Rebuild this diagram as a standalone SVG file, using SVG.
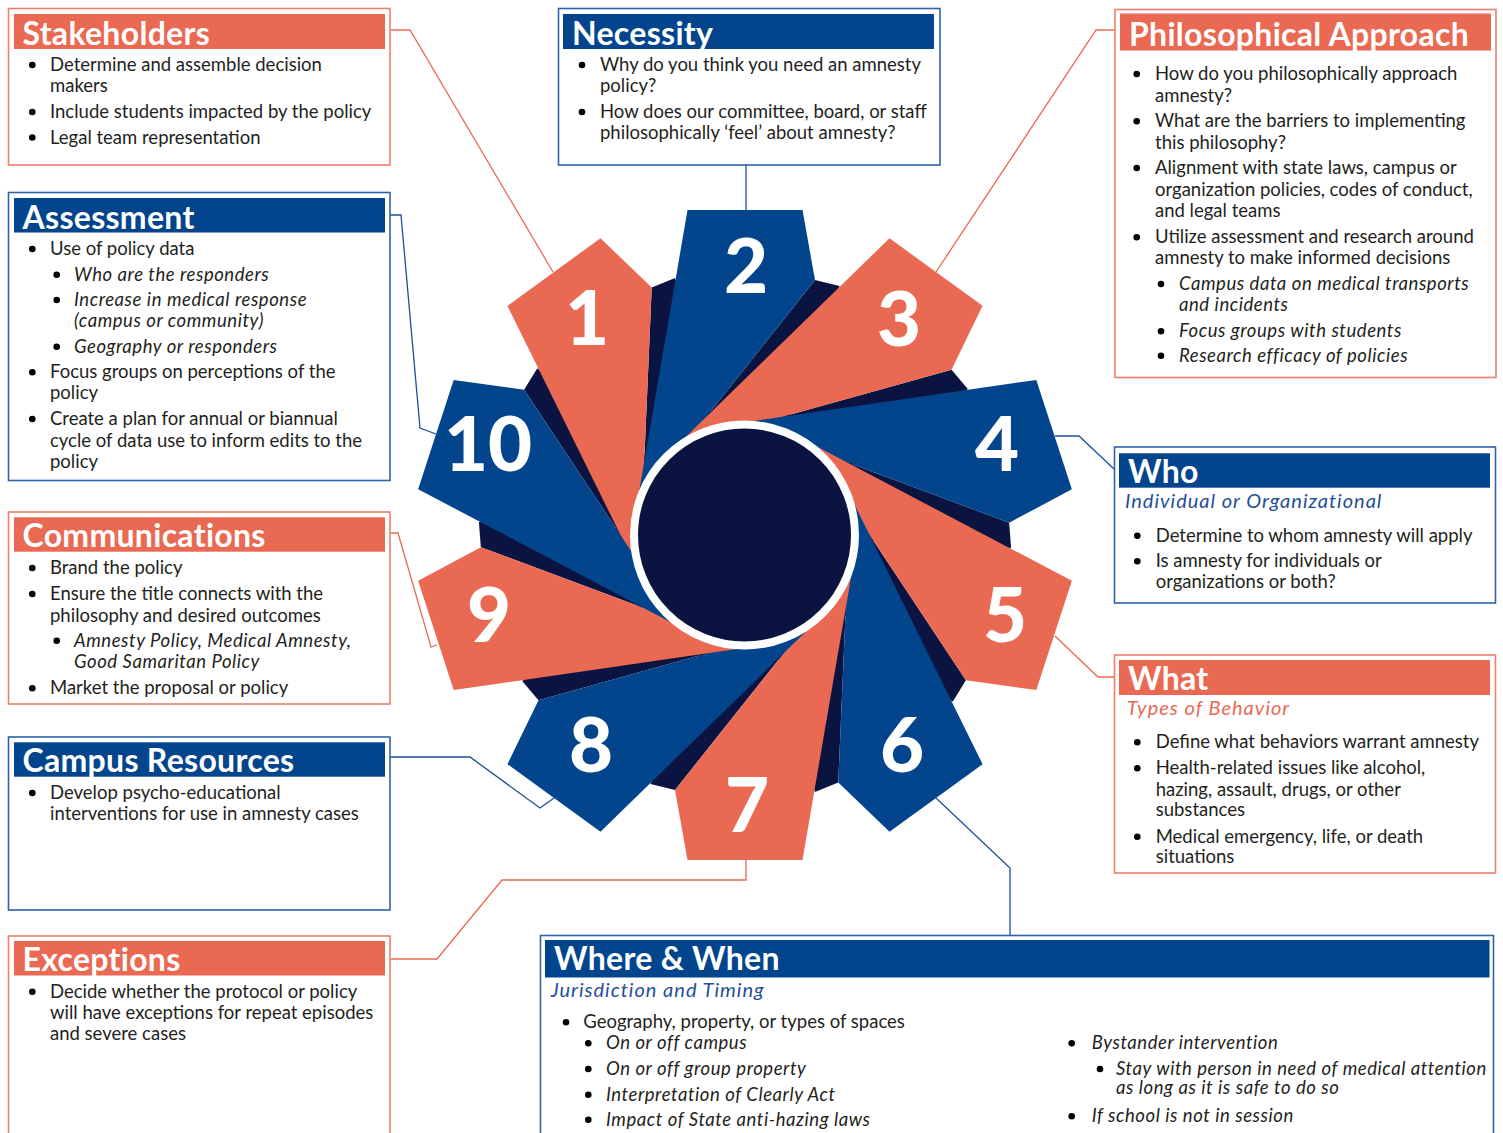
<svg xmlns="http://www.w3.org/2000/svg" xmlns:xlink="http://www.w3.org/1999/xlink" width="1503" height="1133" viewBox="0 0 1503 1133">
<defs>
<style>
.bs{fill:#fff;stroke:#EE7F6B;stroke-width:1.6}
.bb{fill:#fff;stroke:#2F62A8;stroke-width:1.6}
.hs{fill:#EA6953}
.hb{fill:#03458D}
.hdr{font-family:Lato,"Open Sans","Liberation Sans",sans-serif;font-weight:700;font-size:32px;letter-spacing:0.3px;fill:#fff}
.t{font-family:Lato,"Open Sans","Liberation Sans",sans-serif;font-size:18.5px;fill:#231F20}
.i{font-style:italic;letter-spacing:0.55px}
.sub{font-family:Lato,"Open Sans","Liberation Sans",sans-serif;font-style:italic;font-size:20px;letter-spacing:1px}
.dot{fill:#000}
.num{font-family:Lato,"Open Sans","Liberation Sans",sans-serif;font-weight:900;font-size:76px;fill:#fff;text-anchor:middle}
.cs{fill:none;stroke:#EA6953;stroke-width:1.3}
.cb{fill:none;stroke:#1F4F9A;stroke-width:1.3}
</style>
<polygon id="blade" points="637,504 687.5,210 802.5,210 815,280"/>
<polygon id="shade" points="815,280 839.5,285.9 745,535 637,504"/>
</defs>
<rect width="1503" height="1133" fill="#fff"/>

<g id="connectors">
<polyline class="cs" points="390,30 410,30 553,272"/>
<line class="cb" x1="746" y1="165" x2="746" y2="210"/>
<polyline class="cs" points="1115,30 1096,30 936,272"/>
<polyline class="cb" points="390,215 401,215 420,428 436,434"/>
<polyline class="cb" points="1055,436 1079,436 1114,469"/>
<polyline class="cs" points="1055,636 1098,677 1114,677"/>
<polyline class="cs" points="390,533 398,533 431,647 437,645"/>
<polyline class="cb" points="390,757 470,757 540,808 554,798"/>
<polyline class="cs" points="390,959 437,959 502,880 746,880 746,860"/>
<polyline class="cb" points="936,798 1010,868 1010,936"/>
</g>

<g id="pinwheel">
<g fill="#0B1440">
<use xlink:href="#shade" transform="rotate(-36 745 535)"/>
<use xlink:href="#shade"/>
<use xlink:href="#shade" transform="rotate(36 745 535)"/>
<use xlink:href="#shade" transform="rotate(72 745 535)"/>
<use xlink:href="#shade" transform="rotate(108 745 535)"/>
<use xlink:href="#shade" transform="rotate(144 745 535)"/>
<use xlink:href="#shade" transform="rotate(180 745 535)"/>
<use xlink:href="#shade" transform="rotate(216 745 535)"/>
<use xlink:href="#shade" transform="rotate(252 745 535)"/>
<use xlink:href="#shade" transform="rotate(288 745 535)"/>
</g>
<g id="blade1"><use xlink:href="#blade" fill="#EA6953" transform="rotate(-36 745 535)"/></g>
<g id="blade2"><use xlink:href="#blade" fill="#03458D"/></g>
<g id="blade3"><use xlink:href="#blade" fill="#EA6953" transform="rotate(36 745 535)"/></g>
<g id="blade4"><use xlink:href="#blade" fill="#03458D" transform="rotate(72 745 535)"/></g>
<g id="blade5"><use xlink:href="#blade" fill="#EA6953" transform="rotate(108 745 535)"/></g>
<g id="blade6"><use xlink:href="#blade" fill="#03458D" transform="rotate(144 745 535)"/></g>
<g id="blade7"><use xlink:href="#blade" fill="#EA6953" transform="rotate(180 745 535)"/></g>
<g id="blade8"><use xlink:href="#blade" fill="#03458D" transform="rotate(216 745 535)"/></g>
<g id="blade9"><use xlink:href="#blade" fill="#EA6953" transform="rotate(252 745 535)"/></g>
<g id="blade10"><use xlink:href="#blade" fill="#03458D" transform="rotate(288 745 535)"/></g>
<circle id="hub" cx="744.5" cy="535" r="110.5" fill="#0B1440" stroke="#fff" stroke-width="8"/>
<text class="num" x="587" y="345">1</text>
<text class="num" x="746" y="293">2</text>
<text class="num" x="899" y="346">3</text>
<text class="num" x="997" y="471">4</text>
<text class="num" x="1005" y="642">5</text>
<text class="num" x="902" y="772">6</text>
<text class="num" x="747" y="832">7</text>
<text class="num" x="591" y="772">8</text>
<text class="num" x="489" y="642">9</text>
<text class="num" x="488" y="471">10</text>
</g>

<g id="stakeholders">
<rect class="bs" x="8.5" y="8.5" width="381.5" height="156.5"/>
<rect class="hs" x="14" y="14" width="371" height="35"/>
<text class="hdr" x="22.5" y="44.5">Stakeholders</text>
<circle class="dot" cx="32.3" cy="65" r="3.3"/>
<circle class="dot" cx="32.3" cy="112" r="3.3"/>
<circle class="dot" cx="32.3" cy="137.5" r="3.3"/>
<text class="t" x="50" y="71">Determine and assemble decision</text>
<text class="t" x="50" y="92">makers</text>
<text class="t" x="50" y="118">Include students impacted by the policy</text>
<text class="t" x="50" y="143.5">Legal team representation</text>
</g>

<g id="necessity">
<rect class="bb" x="558.5" y="8.5" width="381.5" height="156.5"/>
<rect class="hb" x="563" y="14" width="371" height="35"/>
<text class="hdr" x="572" y="44.5">Necessity</text>
<circle class="dot" cx="582" cy="65" r="3.3"/>
<circle class="dot" cx="582" cy="112" r="3.3"/>
<text class="t" x="600" y="71">Why do you think you need an amnesty</text>
<text class="t" x="600" y="92">policy?</text>
<text class="t" x="600" y="118">How does our committee, board, or staff</text>
<text class="t" x="600" y="139">philosophically ‘feel’ about amnesty?</text>
</g>

<g id="assessment">
<rect class="bb" x="8.5" y="192.5" width="381.5" height="288"/>
<rect class="hb" x="14" y="198" width="371" height="34.5"/>
<text class="hdr" x="22.5" y="228.5">Assessment</text>
<circle class="dot" cx="32.3" cy="249" r="3.3"/>
<circle class="dot" cx="56.7" cy="274.7" r="3.3"/>
<circle class="dot" cx="56.7" cy="300" r="3.3"/>
<circle class="dot" cx="56.7" cy="346.7" r="3.3"/>
<circle class="dot" cx="32.3" cy="372.3" r="3.3"/>
<circle class="dot" cx="32.3" cy="419" r="3.3"/>
<text class="t" x="50" y="255">Use of policy data</text>
<text class="t i" x="74" y="280.7">Who are the responders</text>
<text class="t i" x="74" y="306">Increase in medical response</text>
<text class="t i" x="74" y="327.3">(campus or community)</text>
<text class="t i" x="74" y="352.7">Geography or responders</text>
<text class="t" x="50" y="378.3">Focus groups on perceptions of the</text>
<text class="t" x="50" y="399.3">policy</text>
<text class="t" x="50" y="425">Create a plan for annual or biannual</text>
<text class="t" x="50" y="446.7">cycle of data use to inform edits to the</text>
<text class="t" x="50" y="467.7">policy</text>
</g>

<g id="communications">
<rect class="bs" x="8.5" y="512" width="381.5" height="192"/>
<rect class="hs" x="14" y="517.3" width="371" height="34.4"/>
<text class="hdr" x="22.5" y="546.5">Communications</text>
<circle class="dot" cx="32.3" cy="568" r="3.3"/>
<circle class="dot" cx="32.3" cy="594" r="3.3"/>
<circle class="dot" cx="56.7" cy="640.7" r="3.3"/>
<circle class="dot" cx="32.3" cy="688.3" r="3.3"/>
<text class="t" x="50" y="574">Brand the policy</text>
<text class="t" x="50" y="600">Ensure the title connects with the</text>
<text class="t" x="50" y="621.7">philosophy and desired outcomes</text>
<text class="t i" x="74" y="646.7">Amnesty Policy, Medical Amnesty,</text>
<text class="t i" x="74" y="667.7">Good Samaritan Policy</text>
<text class="t" x="50" y="694.3">Market the proposal or policy</text>
</g>

<g id="campus-resources">
<rect class="bb" x="8.5" y="737" width="381.5" height="173"/>
<rect class="hb" x="14" y="742.3" width="371" height="34.4"/>
<text class="hdr" x="22.5" y="772">Campus Resources</text>
<circle class="dot" cx="32.3" cy="793" r="3.3"/>
<text class="t" x="50" y="799">Develop psycho-educational</text>
<text class="t" x="50" y="820">interventions for use in amnesty cases</text>
</g>

<g id="exceptions">
<rect class="bs" x="8.5" y="936" width="381.5" height="210"/>
<rect class="hs" x="14" y="941" width="371" height="34.5"/>
<text class="hdr" x="22.5" y="970.5">Exceptions</text>
<circle class="dot" cx="32.3" cy="991.7" r="3.3"/>
<text class="t" x="50" y="997.7">Decide whether the protocol or policy</text>
<text class="t" x="50" y="1019">will have exceptions for repeat episodes</text>
<text class="t" x="50" y="1040.3">and severe cases</text>
</g>

<g id="philosophical-approach">
<rect class="bs" x="1115" y="9.5" width="381" height="368"/>
<rect class="hs" x="1120" y="13.5" width="371" height="37"/>
<text class="hdr" x="1129" y="45.5">Philosophical Approach</text>
<circle class="dot" cx="1136.7" cy="74" r="3.3"/>
<circle class="dot" cx="1136.7" cy="121.3" r="3.3"/>
<circle class="dot" cx="1136.7" cy="168" r="3.3"/>
<circle class="dot" cx="1136.7" cy="237.3" r="3.3"/>
<circle class="dot" cx="1161" cy="284" r="3.3"/>
<circle class="dot" cx="1161" cy="331.3" r="3.3"/>
<circle class="dot" cx="1161" cy="355.7" r="3.3"/>
<text class="t" x="1155" y="80">How do you philosophically approach</text>
<text class="t" x="1155" y="101.7">amnesty?</text>
<text class="t" x="1155" y="127.3">What are the barriers to implementing</text>
<text class="t" x="1155" y="149">this philosophy?</text>
<text class="t" x="1155" y="174">Alignment with state laws, campus or</text>
<text class="t" x="1155" y="196">organization policies, codes of conduct,</text>
<text class="t" x="1155" y="217.3">and legal teams</text>
<text class="t" x="1155" y="243.3">Utilize assessment and research around</text>
<text class="t" x="1155" y="264.3">amnesty to make informed decisions</text>
<text class="t i" x="1179" y="290">Campus data on medical transports</text>
<text class="t i" x="1179" y="311">and incidents</text>
<text class="t i" x="1179" y="337.3">Focus groups with students</text>
<text class="t i" x="1179" y="361.7">Research efficacy of policies</text>
</g>

<g id="who">
<rect class="bb" x="1114.5" y="447" width="381" height="156"/>
<rect class="hb" x="1119" y="453.3" width="371" height="34.4"/>
<text class="hdr" x="1128" y="483">Who</text>
<text class="sub" x="1125" y="508.3" fill="#1F4F9A">Individual or Organizational</text>
<circle class="dot" cx="1137.3" cy="535.7" r="3.3"/>
<circle class="dot" cx="1137.3" cy="561.3" r="3.3"/>
<text class="t" x="1155.7" y="541.7">Determine to whom amnesty will apply</text>
<text class="t" x="1155.7" y="567.3">Is amnesty for individuals or</text>
<text class="t" x="1155.7" y="588.3">organizations or both?</text>
</g>

<g id="what">
<rect class="bs" x="1114.5" y="655" width="381" height="218"/>
<rect class="hs" x="1119" y="660" width="371" height="35"/>
<text class="hdr" x="1128" y="689.5">What</text>
<text class="sub" x="1126.7" y="715" fill="#EA6953">Types of Behavior</text>
<circle class="dot" cx="1137.3" cy="742.3" r="3.3"/>
<circle class="dot" cx="1137.3" cy="768.3" r="3.3"/>
<circle class="dot" cx="1137.3" cy="836.7" r="3.3"/>
<text class="t" x="1155.7" y="748.3">Define what behaviors warrant amnesty</text>
<text class="t" x="1155.7" y="774.3">Health-related issues like alcohol,</text>
<text class="t" x="1155.7" y="795.7">hazing, assault, drugs, or other</text>
<text class="t" x="1155.7" y="816">substances</text>
<text class="t" x="1155.7" y="842.7">Medical emergency, life, or death</text>
<text class="t" x="1155.7" y="863.3">situations</text>
</g>

<g id="where-when">
<rect class="bb" x="540.5" y="935.5" width="953" height="210"/>
<rect class="hb" x="545" y="940" width="944.5" height="37.5"/>
<text class="hdr" x="554" y="970">Where &amp; When</text>
<text class="sub" x="550.7" y="996.5" fill="#1F4F9A">Jurisdiction and Timing</text>
<circle class="dot" cx="566" cy="1022.3" r="3.3"/>
<circle class="dot" cx="588.3" cy="1043.3" r="3.3"/>
<circle class="dot" cx="588.3" cy="1069" r="3.3"/>
<circle class="dot" cx="588.3" cy="1094.7" r="3.3"/>
<circle class="dot" cx="588.3" cy="1119.7" r="3.3"/>
<text class="t" x="583.3" y="1028.3">Geography, property, or types of spaces</text>
<text class="t i" x="606" y="1049.3">On or off campus</text>
<text class="t i" x="606" y="1075">On or off group property</text>
<text class="t i" x="606" y="1100.7">Interpretation of Clearly Act</text>
<text class="t i" x="606" y="1125.7">Impact of State anti-hazing laws</text>
<circle class="dot" cx="1071.7" cy="1043.3" r="3.3"/>
<circle class="dot" cx="1100" cy="1069" r="3.3"/>
<circle class="dot" cx="1071.7" cy="1116.3" r="3.3"/>
<text class="t i" x="1091.7" y="1049.3">Bystander intervention</text>
<text class="t i" x="1116" y="1075">Stay with person in need of medical attention</text>
<text class="t i" x="1116" y="1094.3">as long as it is safe to do so</text>
<text class="t i" x="1091.7" y="1122.3">If school is not in session</text>
</g>
</svg>
